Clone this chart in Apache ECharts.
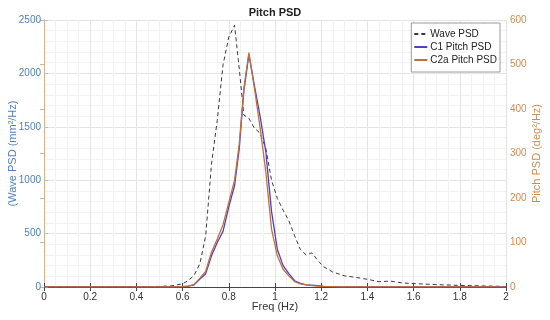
<!DOCTYPE html>
<html>
<head>
<meta charset="utf-8">
<script src="https://cdn.jsdelivr.net/npm/echarts@6/dist/echarts.min.js"></script>
<style>html,body{margin:0;padding:0;background:#fff}#c{width:550px;height:320px}</style>
</head>
<body>
<div id="c"></div>
<script>
var freq = [0, 0.1, 0.2, 0.3, 0.4, 0.5, 0.55, 0.6, 0.625, 0.65, 0.675, 0.7, 0.725, 0.75, 0.775, 0.8, 0.825, 0.845, 0.865, 0.887, 0.91, 0.935, 0.96, 0.985, 1.01, 1.035, 1.06, 1.085, 1.11, 1.135, 1.16, 1.185, 1.21, 1.25, 1.3, 1.35, 1.4, 1.45, 1.5, 1.55, 1.6, 1.7, 1.8, 1.9, 2.0];
var wavePSD = [3, 3, 3, 3, 4, 5, 10, 30, 60, 110, 220, 480, 1150, 1560, 2080, 2340, 2450, 2050, 1610, 1580, 1490, 1440, 1300, 1000, 830, 720, 620, 480, 350, 300, 320, 250, 190, 140, 105, 90, 72, 50, 55, 38, 32, 22, 15, 10, 5];
var c1PitchPSD = [0.5, 0.5, 0.5, 0.5, 0.5, 0.5, 0.5, 1, 2, 5, 18, 30, 70, 100, 125, 180, 228, 310, 440, 522, 455, 385, 305, 170, 85, 48, 30, 14, 8, 5, 4, 3, 1.5, 1, 0.5, 0.5, 0.5, 0.5, 0.5, 0.5, 0.5, 0.5, 0.5, 0.5, 0.5];
var c2aPitchPSD = [0.5, 0.5, 0.5, 0.5, 0.5, 0.5, 0.5, 1, 2, 6, 20, 35, 78, 108, 140, 190, 240, 320, 445, 527, 450, 360, 260, 130, 70, 40, 25, 12, 7, 5, 3, 2, 1.5, 1, 0.5, 0.5, 0.5, 0.5, 0.5, 0.5, 0.5, 0.5, 0.5, 0.5, 0.5];
var xTicks = [0, 0.2, 0.4, 0.6, 0.8, 1, 1.2, 1.4, 1.6, 1.8, 2];
var leftTicks = [0, 500, 1000, 1500, 2000, 2500];
var rightTicks = [0, 100, 200, 300, 400, 500, 600];

function pairs(v){ return freq.map(function(f,i){ return [f, v[i]]; }); }

var font = 'Liberation Sans, Arial, sans-serif';
var leftColor = '#4f80c2';
var rightColor = '#cc8c5a';
var chart = echarts.init(document.getElementById('c'), null, {renderer:'canvas'});
chart.setOption({
  animation: false,
  backgroundColor: '#fff',
  title: {text: 'Pitch PSD', left: 'center', top: 2, textStyle: {fontSize: 11, fontWeight: 'bold', color: '#222', fontFamily: font}},
  grid: {left: 44, right: 44, top: 20, bottom: 33, outerBoundsMode: 'none', containLabel: false},
  legend: {
    orient: 'vertical', right: 50, top: 23, itemWidth: 13, itemHeight: 9, itemGap: 3,
    backgroundColor: '#fff', borderColor: '#9a9a9a', borderWidth: 1, borderRadius: 0, padding: [6, 3, 7, 2],
    textStyle: {fontSize: 10, color: '#222', fontFamily: font, padding: [0, 0, 0, -2]},
    itemStyle: {opacity: 0},
    data: ['Wave PSD', 'C1 Pitch PSD', 'C2a Pitch PSD']
  },
  xAxis: [{
    type: 'value', min: xTicks[0], max: xTicks[xTicks.length-1], interval: 0.2,
    name: 'Freq (Hz)', nameLocation: 'middle', nameGap: 14, nameMoveOverlap: false,
    nameTextStyle: {fontSize: 11, color: '#333', fontFamily: font},
    axisLine: {lineStyle: {color: '#444'}},
    axisTick: {inside: true, length: 4, lineStyle: {color: '#444'}},
    axisLabel: {fontSize: 10, color: '#333', margin: 5, fontFamily: font},
    splitLine: {show: true, lineStyle: {color: '#e4e4e4'}},
    minorTick: {show: false, splitNumber: 4},
    minorSplitLine: {show: true, lineStyle: {color: '#f2f2f2'}}
  }, {
    type: 'value', position: 'top', min: 0, max: 2, interval: 0.2,
    axisLine: {show: true, lineStyle: {color: '#444'}},
    axisTick: {show: true, inside: true, length: 4, lineStyle: {color: '#444'}},
    axisLabel: {show: false}, splitLine: {show: false}
  }],
  yAxis: [{
    type: 'value', min: leftTicks[0], max: leftTicks[leftTicks.length-1], interval: 500,
    name: '(Wave PSD (mm²/Hz)', nameLocation: 'middle', nameGap: 26, nameMoveOverlap: false,
    nameTextStyle: {fontSize: 11, color: leftColor, fontFamily: font},
    axisLine: {show: true, lineStyle: {color: '#a9c1e0'}},
    axisTick: {show: true, inside: true, length: 4, lineStyle: {color: '#a9c1e0'}},
    axisLabel: {fontSize: 10, color: leftColor, margin: 3, fontFamily: font, formatter: function(v){ return String(v); }},
    splitLine: {show: true, lineStyle: {color: '#e4e4e4'}},
    minorTick: {show: false, splitNumber: 5},
    minorSplitLine: {show: true, lineStyle: {color: '#f2f2f2'}}
  }, {
    type: 'value', position: 'right', min: rightTicks[0], max: rightTicks[rightTicks.length-1], interval: 100,
    name: 'Pitch PSD (deg²/Hz)', nameLocation: 'middle', nameGap: 25, nameRotate: 90, nameMoveOverlap: false,
    nameTextStyle: {fontSize: 11, color: rightColor, fontFamily: font},
    axisLine: {show: true, lineStyle: {color: '#d8b08e'}},
    axisTick: {show: true, inside: true, length: 4, lineStyle: {color: '#d8b08e'}},
    axisLabel: {fontSize: 10, color: rightColor, margin: 4, fontFamily: font, formatter: function(v){ return String(v); }},
    splitLine: {show: false}
  }],
  series: [{
    name: 'Wave PSD', type: 'line', yAxisIndex: 0, data: pairs(wavePSD), symbol: 'none',
    lineStyle: {color: '#3a3a3a', width: 1, type: [4, 3]}, itemStyle: {color: '#3a3a3a'}, z: 3
  }, {
    name: 'C1 Pitch PSD', type: 'line', yAxisIndex: 1, data: pairs(c1PitchPSD), symbol: 'none',
    lineStyle: {color: '#4b3fd0', width: 1.3}, itemStyle: {color: '#4b3fd0'}, z: 4
  }, {
    name: 'C2a Pitch PSD', type: 'line', yAxisIndex: 1, data: pairs(c2aPitchPSD), symbol: 'none',
    lineStyle: {color: '#c0703a', width: 1.3}, itemStyle: {color: '#c0703a'}, z: 5
  }]
});
</script>
</body>
</html>
